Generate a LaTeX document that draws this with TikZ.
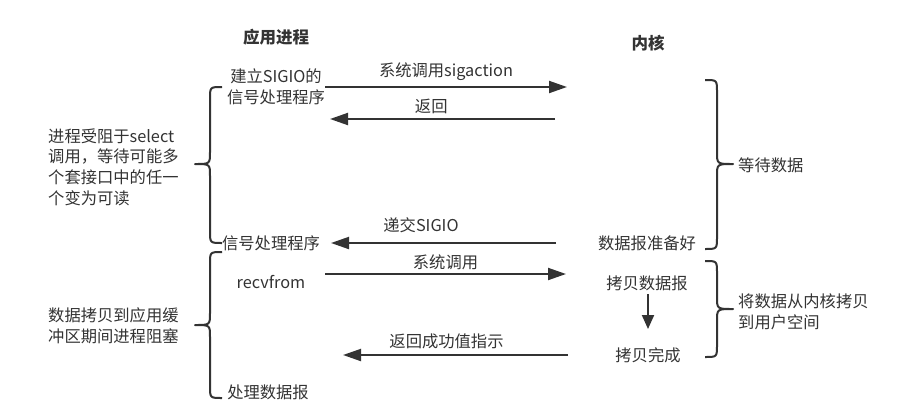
\documentclass[tikz,border=0pt]{standalone}
\usepackage{fontspec}
\setmainfont{Noto Sans CJK SC}
\usetikzlibrary{arrows.meta}
\definecolor{ink}{HTML}{333333}
\begin{document}
\begin{tikzpicture}[x=1pt,y=-1pt,
  every node/.style={text=ink,font=\fontsize{16.3}{20.7}\selectfont,inner sep=0pt},
  title/.style={font=\fontsize{16.5}{20}\selectfont\bfseries},
  msg/.style={draw=ink,line width=2pt,-{Triangle[length=18pt,width=12pt]}},
  brace/.style={draw=ink,line width=2pt,line join=round}]
\useasboundingbox (0,0) rectangle (917,416);
% titles
\node[title] (tapp) at (276,37) {应用进程};
\node[title] (tker) at (648,43) {内核};
% application side
\node[align=center] (a1) at (276,87) {建立SIGIO的\\信号处理程序};
\node (a2) at (271,243) {信号处理程序};
\node (a3) at (271,282) {recvfrom};
\node (a4) at (268,392) {处理数据报};
% kernel side
\node (k1) at (647,243) {数据报准备好};
\node (k2) at (647,283) {拷贝数据报};
\node (k3) at (648,355) {拷贝完成};
% side texts
\node[anchor=west,align=left] (l1) at (48,167) {进程受阻于select\\调用，等待可能多\\个套接口中的任一\\个变为可读};
\node[anchor=west,align=left] (l2) at (48,326) {数据拷贝到应用缓\\冲区期间进程阻塞};
\node[anchor=west] (r1) at (738,165) {等待数据};
\node[anchor=west,align=left] (r2) at (738,312) {将数据从内核拷贝\\到用户空间};
% arrow end points
\coordinate (m1s) at (325,87);  \coordinate (m1e) at (567,87);
\coordinate (m2s) at (555,119); \coordinate (m2e) at (330,119);
\coordinate (m3s) at (556,243); \coordinate (m3e) at (331,243);
\coordinate (m4s) at (325,274); \coordinate (m4e) at (566,274);
\coordinate (m5s) at (568,355); \coordinate (m5e) at (343,355);
\coordinate (d1) at (648,294);  \coordinate (d2) at (648,329);
% messages
\draw[msg] (m1s) -- (m1e) node[midway,above=5pt] (t1) {系统调用sigaction};
\draw[msg] (m2s) -- (m2e) node[pos=0.55,above=4pt] (t2) {返回};
\draw[msg] (m3s) -- (m3e) node[pos=0.6,above=9pt] (t3) {递交SIGIO};
\draw[msg] (m4s) -- (m4e) node[midway,above=3pt] (t4) {系统调用};
\draw[msg] (m5s) -- (m5e) node[pos=0.54,above=5pt] (t5) {返回成功值指示};
\draw[draw=ink,line width=2pt,-{Triangle[length=14pt,width=12pt]}] (d1) -- (d2);
% braces
\draw[brace] (222,87) .. controls (210,87) .. (210,99) -- (210,152) .. controls (210,164) .. (195,164) .. controls (210,164) .. (210,176) -- (210,231) .. controls (210,243) .. (222,243);
\draw[brace] (222,252) .. controls (210,252) .. (210,264) -- (210,313) .. controls (210,325) .. (195,325) .. controls (210,325) .. (210,337) -- (210,386) .. controls (210,398) .. (222,398);
\draw[brace] (705,80) .. controls (717,80) .. (717,92) -- (717,152) .. controls (717,164) .. (733,164) .. controls (717,164) .. (717,176) -- (717,237) .. controls (717,249) .. (705,249);
\draw[brace] (705,261) .. controls (717,261) .. (717,273) -- (717,297) .. controls (717,309) .. (733,309) .. controls (717,309) .. (717,321) -- (717,345) .. controls (717,357) .. (705,357);
\end{tikzpicture}
\end{document}
